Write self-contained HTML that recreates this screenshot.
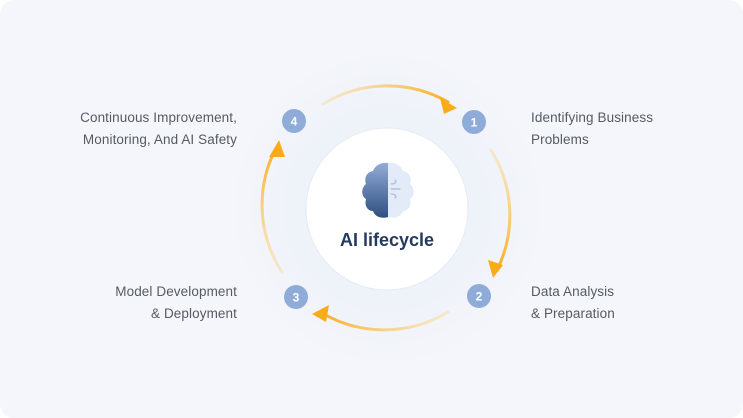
<!DOCTYPE html>
<html><head><meta charset="utf-8"><style>
html,body{margin:0;padding:0;width:743px;height:418px;overflow:hidden;background:#fff}
.card{position:absolute;left:0;top:0;width:743px;height:418px;border-radius:14px;background:#f4f6fb;overflow:hidden}
.t{position:absolute;font-family:"Liberation Sans",sans-serif;font-size:13.5px;line-height:22px;color:#555b63;letter-spacing:0.1px}
.r{text-align:right}
</style></head><body>
<div class="card">
<svg width="743" height="418" style="position:absolute;left:0;top:0">
<defs>
<radialGradient id="glow" cx="387" cy="209" r="190" gradientUnits="userSpaceOnUse">
<stop offset="0.5" stop-color="#eef2f9"/><stop offset="1" stop-color="#f4f6fb" stop-opacity="0"/></radialGradient>
<linearGradient id="gT" x1="323" y1="0" x2="454" y2="0" gradientUnits="userSpaceOnUse"><stop offset="0" stop-color="#fbd68a" stop-opacity="0.4"/><stop offset="1" stop-color="#f9ab1a"/></linearGradient>
<linearGradient id="gR" x1="0" y1="150" x2="0" y2="274" gradientUnits="userSpaceOnUse"><stop offset="0" stop-color="#fbd68a" stop-opacity="0.4"/><stop offset="1" stop-color="#f9ab1a"/></linearGradient>
<linearGradient id="gB" x1="448" y1="0" x2="315" y2="0" gradientUnits="userSpaceOnUse"><stop offset="0" stop-color="#fbd68a" stop-opacity="0.4"/><stop offset="1" stop-color="#f9ab1a"/></linearGradient>
<linearGradient id="gL" x1="0" y1="272" x2="0" y2="144" gradientUnits="userSpaceOnUse"><stop offset="0" stop-color="#fbd68a" stop-opacity="0.4"/><stop offset="1" stop-color="#f9ab1a"/></linearGradient>
<linearGradient id="brain" x1="0" y1="163" x2="0" y2="218" gradientUnits="userSpaceOnUse"><stop offset="0" stop-color="#93abd6"/><stop offset="1" stop-color="#2f4f80"/></linearGradient>
</defs>
<circle cx="387" cy="209" r="190" fill="url(#glow)"/>
<g fill="none" stroke-width="3" stroke-linecap="round">
<path d="M323 104 A123 123 0 0 1 448 102" stroke="url(#gT)"/>
<path d="M491 150 A123 123 0 0 1 498 268" stroke="url(#gR)"/>
<path d="M448 312 A123 123 0 0 1 322 313" stroke="url(#gB)"/>
<path d="M282 272 A123 123 0 0 1 275 150" stroke="url(#gL)"/>
</g>
<g fill="#f9ab1a">
<polygon points="457,108 440,98 444,114"/>
<polygon points="493,278 488,260 503,265"/>
<polygon points="312,314 329,305 326,322"/>
<polygon points="279,140 269,157 285,157"/>
</g>
<circle cx="387" cy="209" r="81" fill="#fff" stroke="#e6ebf3" stroke-width="1"/>
<path d="M388 163 C380 162 375 166 373 171 C366 172 364 179 366 184 C361 188 361 196 366 199 C364 206 368 211 373 211 C375 217 382 219 388 217 Z" fill="url(#brain)"/>
<path d="M388 163 C396 162 401 166 403 171 C410 172 412 179 410 184 C415 188 415 196 410 199 C412 206 408 211 403 211 C401 217 394 219 388 217 Z" fill="#e3ebf8"/>
<g fill="none" stroke="#a9bbd9" stroke-width="1.2" stroke-linecap="round">
<path d="M391 184 C396 184 397 181 395 180"/><path d="M391 189 L400 189"/><path d="M391 194 C396 194 397 197 395 198"/>
</g>
<text x="387" y="246" text-anchor="middle" font-family="Liberation Sans,sans-serif" font-size="18" font-weight="bold" fill="#243a5e">AI lifecycle</text>
<g fill="#8facd8"><circle cx="294" cy="121" r="12"/><circle cx="474" cy="122" r="12"/><circle cx="479" cy="296" r="12"/><circle cx="296" cy="297" r="12"/></g>
<g font-family="Liberation Sans,sans-serif" font-size="12" font-weight="bold" fill="#fff" text-anchor="middle">
<text x="294" y="125.5">4</text><text x="474" y="126.5">1</text><text x="479" y="300.5">2</text><text x="296" y="301.5">3</text></g>
</svg>
<div class="t r" style="right:506px;top:107px">Continuous Improvement,<br>Monitoring, And AI Safety</div>
<div class="t" style="left:531px;top:107px">Identifying Business<br>Problems</div>
<div class="t r" style="right:506px;top:281px">Model Development<br>&amp; Deployment</div>
<div class="t" style="left:531px;top:281px">Data Analysis<br>&amp; Preparation</div>
</div>
</body></html>
